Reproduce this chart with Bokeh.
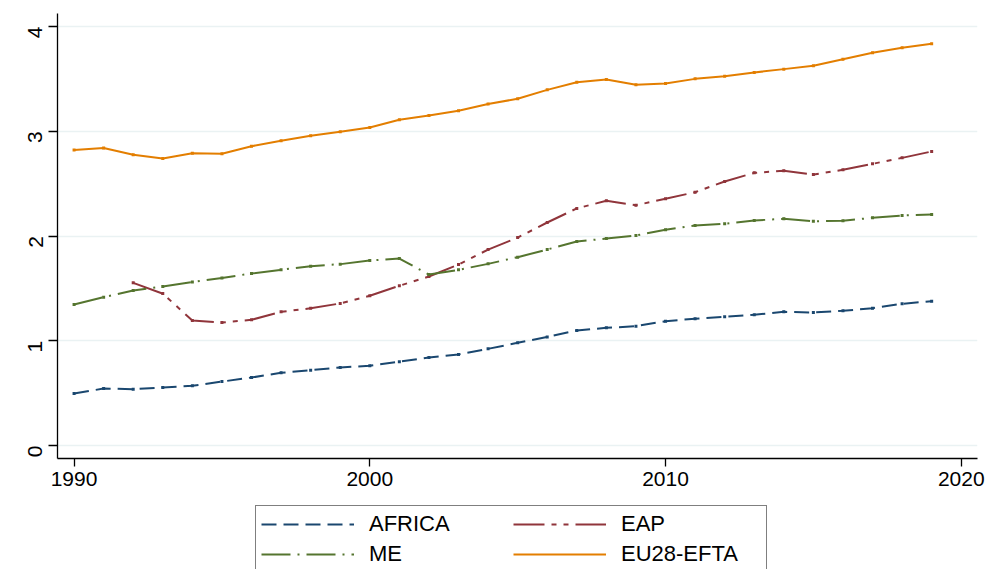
from bokeh.plotting import figure
from bokeh.models import Range1d, FixedTicker, Legend, LegendItem
from bokeh.layouts import column
from bokeh.embed import file_html
from bokeh.resources import INLINE
import math

years = list(range(1990, 2020))

africa = [0.496, 0.544, 0.537, 0.554, 0.570, 0.610, 0.649, 0.694, 0.719, 0.745,
          0.761, 0.800, 0.840, 0.869, 0.923, 0.980, 1.037, 1.098, 1.123, 1.139,
          1.187, 1.210, 1.228, 1.248, 1.276, 1.270, 1.286, 1.311, 1.353, 1.378]

eap_years = list(range(1992, 2020))
eap = [1.553, 1.450, 1.193, 1.174, 1.200, 1.276, 1.310, 1.356,
       1.430, 1.525, 1.613, 1.728, 1.870, 1.985, 2.129, 2.263, 2.336, 2.294,
       2.355, 2.418, 2.520, 2.603, 2.622, 2.587, 2.632, 2.689, 2.746, 2.807]

me = [1.346, 1.416, 1.480, 1.518, 1.560, 1.600, 1.642, 1.677, 1.712, 1.731,
      1.766, 1.785, 1.632, 1.677, 1.734, 1.798, 1.871, 1.947, 1.976, 2.005,
      2.059, 2.100, 2.116, 2.148, 2.164, 2.141, 2.145, 2.174, 2.196, 2.205]

eu = [2.820, 2.840, 2.775, 2.740, 2.790, 2.785, 2.857, 2.910, 2.956, 2.995,
      3.036, 3.109, 3.150, 3.195, 3.260, 3.310, 3.395, 3.468, 3.494, 3.443,
      3.456, 3.500, 3.526, 3.561, 3.593, 3.625, 3.688, 3.749, 3.797, 3.835]

x_ticks = [1990, 2000, 2010, 2020]
y_ticks = [0, 1, 2, 3, 4]
legend_order = ["AFRICA", "ME", "EAP", "EU28-EFTA"]

FONT = "Liberation Sans"
BL, BR = 57, 15

p = figure(width=992, height=500, output_backend="svg", toolbar_location=None,
           x_range=Range1d(1989.44, 2020.55), y_range=Range1d(-0.124, 4.124),
           min_border_left=BL, min_border_right=BR, min_border_top=13, min_border_bottom=42)
p.outline_line_color = None
p.background_fill_color = "white"
p.border_fill_color = "white"

p.xgrid.grid_line_color = None
p.ygrid.grid_line_color = "#eaf2f3"
p.ygrid.grid_line_width = 1.5

p.xaxis.ticker = FixedTicker(ticks=x_ticks)
p.yaxis.ticker = FixedTicker(ticks=y_ticks)
for ax in (p.xaxis, p.yaxis):
    ax.axis_line_color = "black"
    ax.axis_line_width = 1.3
    ax.major_tick_line_color = "black"
    ax.major_tick_line_width = 1.3
    ax.minor_tick_line_color = None
    ax.major_tick_in = 0
    ax.major_label_text_font = FONT
    ax.major_label_text_font_size = "21px"
    ax.major_label_text_color = "black"
p.xaxis.major_tick_out = 8
p.xaxis.major_label_standoff = 5
p.yaxis.major_tick_out = 9
p.yaxis.major_label_standoff = 13
p.yaxis.major_label_orientation = math.pi / 2

series = [
    ("AFRICA", years, africa, "#1a476f", "15 7"),
    ("EAP", eap_years, eap, "#90353b", "31 7 5 7 5 7"),
    ("ME", years, me, "#55752f", "29 7 2 7"),
    ("EU28-EFTA", years, eu, "#e37e00", "solid"),
]

# legend strip below the chart (frame aligned with the chart's frame)
p2 = figure(width=992, height=69, output_backend="svg", toolbar_location=None,
            x_range=Range1d(0, 1), y_range=Range1d(0, 1),
            x_axis_type=None, y_axis_type=None,
            min_border_left=BL, min_border_right=BR, min_border_top=0, min_border_bottom=0)
p2.outline_line_color = None
p2.grid.visible = False

rend = {}
for name, xs, ys, col, dash in series:
    p.line(xs, ys, line_color=col, line_width=2, line_dash=dash)
    p.scatter(xs, ys, marker="square", size=3, fill_color=col, line_color=None)
    # off-screen copies that only serve as legend glyphs
    rend[name] = p2.line(xs, [v - 100 for v in ys], line_color=col, line_width=2, line_dash=dash)

legend = Legend(items=[LegendItem(label=n, renderers=[rend[n]]) for n in legend_order],
                ncols=2, location=(255 - BL, -4),
                label_text_font=FONT, label_text_font_size="22px", label_text_color="black",
                glyph_width=93, glyph_height=22, label_height=22, label_width=140,
                label_standoff=15, spacing=4, padding=5, margin=0,
                border_line_color="black", border_line_width=1.3,
                background_fill_color="white", background_fill_alpha=1.0)
p2.add_layout(legend, "center")

layout = column(p, p2, spacing=0)
open("out.html", "w").write(file_html(layout, INLINE))
